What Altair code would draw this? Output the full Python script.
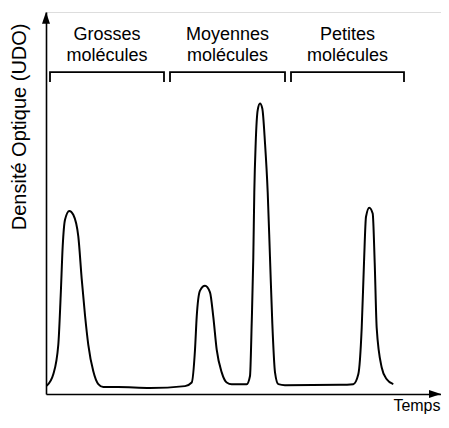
import altair as alt
import pandas as pd

# Chromatogram trace (time, optical density)
time = [0.7, 7.3, 12.3, 14.7, 16.7, 19, 23.3, 27.3, 32.3, 35.7, 39, 42.3, 47.3, 52.3, 57.3, 72, 104, 139,
        145.7, 149, 150.7, 154, 159, 164, 167.3, 170.7, 175.7, 180.7, 185.7, 200.7,
        204, 205.7, 207.3, 208.3, 209.7, 211.7, 214, 216.3, 219, 221.7, 224, 226.3, 229, 232.3, 239,
        294, 307.3, 312.3, 315.7, 318, 320, 323.3, 326.7, 328.7, 330.7, 335.7, 340.7, 347.3]
density = [8.3, 20, 50, 100, 150, 177, 186, 182, 160, 117, 80, 50, 23, 10, 7, 7, 6, 8,
           11.7, 45, 78.3, 105, 110, 103.3, 78.3, 45, 22, 11.7, 10, 10,
           18.3, 72, 138.3, 205, 255, 288.3, 295, 290, 255, 205, 138.3, 72, 22, 10, 9,
           9.3, 10, 20, 67, 133.3, 180, 189.3, 183.3, 133.3, 67, 27, 15, 10]

# Brackets and their labels
bracket_start = [4, 124, 245]
bracket_end = [118, 239, 358]
bracket_top = 327
bracket_foot = 317
label_line1 = ["Grosses", "Moyennes", "Petites"]
label_line2 = ["molécules", "molécules", "molécules"]
label_y1 = 360
label_y2 = 338

x_max = 395
y_max = 388
arrow_len = 12
arrow_half = 4

FONT = "Liberation Sans"

curve_df = pd.DataFrame({"t": time, "d": density, "i": range(len(time))})

rows = []
for b, (x1, x2) in enumerate(zip(bracket_start, bracket_end)):
    for k, (xx, yy) in enumerate([(x1, bracket_foot), (x1, bracket_top), (x2, bracket_top), (x2, bracket_foot)]):
        rows.append({"b": b, "k": k, "t": xx, "d": yy})
bracket_df = pd.DataFrame(rows)

labels = []
for x1, x2, l1, l2 in zip(bracket_start, bracket_end, label_line1, label_line2):
    cx = (x1 + x2) / 2
    labels.append({"t": cx, "d": label_y1, "txt": l1})
    labels.append({"t": cx, "d": label_y2, "txt": l2})
label_df = pd.DataFrame(labels)

# arrowheads at the ends of the axes
up_df = pd.DataFrame({"ud": [y_max - arrow_len, y_max],
                      "ua": [-arrow_half, 0], "ub": [arrow_half, 0]})
right_df = pd.DataFrame({"rt": [x_max - arrow_len, x_max],
                         "ra": [-arrow_half, 0], "rb": [arrow_half, 0]})

xs = alt.Scale(domain=[0, x_max], nice=False, zero=False)
ys = alt.Scale(domain=[0, y_max], nice=False, zero=False)

x_axis = alt.Axis(domain=True, ticks=False, labels=False, grid=False, domainColor="black",
                  domainWidth=1.6, title="Temps", titleFont=FONT, titleFontSize=16,
                  titleFontWeight="normal", titleColor="black", titleX=394, titleY=16,
                  titleAlign="right", titleBaseline="alphabetic")
y_axis = alt.Axis(domain=True, ticks=False, labels=False, grid=False, domainColor="black",
                  domainWidth=1.6, title="Densité Optique (UDO)", titleFont=FONT, titleFontSize=20,
                  titleFontWeight="normal", titleColor="black", titleAngle=270, titleX=-27,
                  titleY=11, titleAlign="right", titleBaseline="middle")

curve = alt.Chart(curve_df).mark_line(color="black", strokeWidth=2, interpolate="monotone").encode(
    x=alt.X("t:Q", scale=xs, axis=x_axis),
    y=alt.Y("d:Q", scale=ys, axis=y_axis),
    order="i:O",
)

brackets = alt.Chart(bracket_df).mark_line(color="black", strokeWidth=1.8).encode(
    x=alt.X("t:Q", scale=xs),
    y=alt.Y("d:Q", scale=ys),
    detail="b:N",
    order="k:O",
)

texts = alt.Chart(label_df).mark_text(font=FONT, fontSize=18, color="black", align="center",
                                       baseline="alphabetic").encode(
    x=alt.X("t:Q", scale=xs),
    y=alt.Y("d:Q", scale=ys),
    text="txt:N",
)

up_arrow = alt.Chart(up_df).mark_area(color="black", opacity=1, orient="horizontal").encode(
    y=alt.Y("ud:Q", scale=ys),
    x=alt.X("ua:Q", scale=xs),
    x2="ub:Q",
)

right_arrow = alt.Chart(right_df).mark_area(color="black", opacity=1, orient="vertical").encode(
    x=alt.X("rt:Q", scale=xs),
    y=alt.Y("ra:Q", scale=ys),
    y2="rb:Q",
)

chart = alt.layer(curve, brackets, texts, up_arrow, right_arrow).properties(
    width=395, height=382,
    autosize=alt.AutoSizeParams(type="none"),
    padding={"left": 38, "top": 4, "right": 0, "bottom": 21},
).configure_view(stroke=None).configure(font=FONT)

chart.save("out.html", embed_options={"renderer": "svg", "actions": False})
